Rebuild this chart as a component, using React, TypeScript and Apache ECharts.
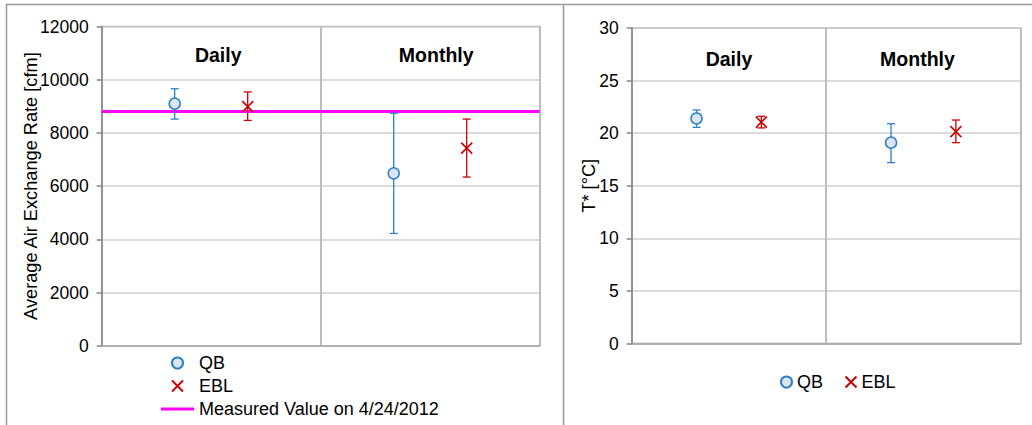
import React, { useEffect, useRef } from "react";
import * as echarts from "echarts";

const categories = ["Daily", "Monthly"];
// Air exchange rate [cfm]
const airQB = [9100, 6480];
const airQBLow = [8520, 4220];
const airQBHigh = [9660, 8740];
const airEBL = [8990, 7430];
const airEBLLow = [8470, 6340];
const airEBLHigh = [9540, 8520];
const measuredValue = 8800;
const airTicks = { min: 0, max: 12000, interval: 2000 };
// Temperature T* [°C]
const tQB = [21.4, 19.1];
const tQBLow = [20.55, 17.2];
const tQBHigh = [22.2, 20.9];
const tEBL = [21.05, 20.15];
const tEBLLow = [20.5, 19.1];
const tEBLHigh = [21.6, 21.25];
const tTicks = { min: 0, max: 30, interval: 5 };

const FONT = "'Liberation Sans', Arial, sans-serif";
const BLUE = "#2f7fc4";
const RED = "#cc0000";
const MAGENTA = "#ff00ff";
const XPATH = "path://M0,0L10,10M10,0L0,10";
const LINEPATH = "path://M0,0L34,0L34,3L0,3Z";

const posQB = (i: number) => 3 * i + 1;
const posEBL = (i: number) => 3 * i + 2;

function errorSeries(name: string, xi: number, yi: number, lo: number[], hi: number[], pos: (i: number) => number, color: string) {
  return {
    name,
    type: "custom",
    xAxisIndex: xi,
    yAxisIndex: yi,
    z: 3,
    data: lo.map((l, i) => [pos(i), l, hi[i]]),
    encode: { x: 0, y: [1, 2] },
    renderItem: (params: any, api: any) => {
      const x = api.value(0);
      const p1 = api.coord([x, api.value(1)]);
      const p2 = api.coord([x, api.value(2)]);
      const cap = 4;
      const style = { stroke: color, lineWidth: 1.3, fill: "none" };
      return {
        type: "group",
        children: [
          { type: "line", shape: { x1: p1[0], y1: p1[1], x2: p2[0], y2: p2[1] }, style },
          { type: "line", shape: { x1: p1[0] - cap, y1: p1[1], x2: p1[0] + cap, y2: p1[1] }, style },
          { type: "line", shape: { x1: p2[0] - cap, y1: p2[1], x2: p2[0] + cap, y2: p2[1] }, style },
        ],
      };
    },
  };
}

function qbSeries(xi: number, yi: number, vals: number[]) {
  return {
    name: "QB",
    type: "scatter",
    xAxisIndex: xi,
    yAxisIndex: yi,
    z: 5,
    symbol: "circle",
    symbolSize: 11,
    itemStyle: { color: "#dce6f2", borderColor: BLUE, borderWidth: 1.5, opacity: 1 },
    data: vals.map((v, i) => [posQB(i), v]),
  };
}

function eblSeries(xi: number, yi: number, vals: number[]) {
  return {
    name: "EBL",
    type: "scatter",
    xAxisIndex: xi,
    yAxisIndex: yi,
    z: 5,
    symbol: XPATH,
    symbolSize: 11,
    itemStyle: { color: "none", borderColor: RED, borderWidth: 1.6, opacity: 1 },
    data: vals.map((v, i) => [posEBL(i), v]),
  };
}

function xValueAxis(gridIndex: number) {
  return {
    type: "value",
    gridIndex,
    min: 0,
    max: 6,
    interval: 3,
    axisLine: { show: true, onZero: false, lineStyle: { color: "#a6a6a6", width: 1.5 } },
    axisTick: { show: false },
    axisLabel: { show: false },
    splitLine: { show: true, lineStyle: { color: "#bdbdbd", width: 2 } },
  };
}

// shifts: horizontal offset (px) of each category label from its category centre
function xCatAxis(gridIndex: number, margin: number, shifts: number[]) {
  const rich: any = {};
  shifts.forEach((s, i) => {
    rich["c" + i] = {
      fontFamily: FONT,
      fontSize: 19.5,
      fontWeight: "bold",
      color: "#000",
      padding: s >= 0 ? [0, 0, 0, 2 * s] : [0, -2 * s, 0, 0],
    };
  });
  return {
    type: "category",
    gridIndex,
    position: "top",
    data: categories,
    axisLine: { show: false },
    axisTick: { show: false },
    splitLine: { show: false },
    axisLabel: {
      inside: true,
      margin,
      fontFamily: FONT,
      fontSize: 19.5,
      fontWeight: "bold",
      color: "#000",
      formatter: (v: string, i: number) => `{c${i}|${v}}`,
      rich,
    },
  };
}

function yAxis(gridIndex: number, ticks: any, name: string, nameGap: number) {
  return {
    type: "value",
    gridIndex,
    min: ticks.min,
    max: ticks.max,
    interval: ticks.interval,
    name,
    nameLocation: "middle",
    nameRotate: 90,
    nameGap,
    nameMoveOverlap: false,
    nameTextStyle: { fontFamily: FONT, fontSize: 18.2, color: "#000" },
    axisLine: { show: true, lineStyle: { color: "#868686", width: 1.5 } },
    axisTick: { show: true, length: 5, lineStyle: { color: "#868686", width: 1.5 } },
    axisLabel: {
      fontFamily: FONT,
      fontSize: 17.5,
      color: "#000",
      margin: 13,
      formatter: (v: number) => String(v),
    },
    splitLine: { show: true, lineStyle: { color: "#d0d0d0", width: 1.5 } },
  };
}

export default function App() {
  const ref = useRef<HTMLDivElement>(null);
  useEffect(() => {
    document.body.style.margin = "0";
    const chart = echarts.init(ref.current!, null, { renderer: "svg" });
    const frame = { stroke: "#999999", lineWidth: 1.5 };
    chart.setOption({
      animation: false,
      backgroundColor: "#ffffff",
      grid: [
        { left: 101.7, top: 26.5, width: 438, height: 319.2, show: true, borderColor: "#a6a6a6", borderWidth: 1.5, backgroundColor: "transparent" },
        { left: 631.7, top: 28, width: 389, height: 315.5, show: true, borderColor: "#a6a6a6", borderWidth: 1.5, backgroundColor: "transparent" },
      ],
      xAxis: [xValueAxis(0), xCatAxis(0, 18.5, [7, 6]), xValueAxis(1), xCatAxis(1, 20.5, [0, -6])],
      yAxis: [
        yAxis(0, airTicks, "Average Air Exchange Rate [cfm]", 62),
        yAxis(1, tTicks, "T* [°C]", 34),
      ],
      legend: [
        {
          data: [
            { name: "QB", icon: "circle" },
            { name: "EBL", icon: XPATH },
            {
              name: "Measured Value on 4/24/2012",
              icon: LINEPATH,
              itemStyle: { color: MAGENTA, borderWidth: 0 },
            },
          ],
          orient: "vertical",
          left: 161,
          top: 354,
          itemWidth: 33,
          itemHeight: 11,
          itemGap: 5,
          padding: 0,
          textStyle: { fontFamily: FONT, fontSize: 18, color: "#000" },
        },
        {
          data: [
            { name: "QB", icon: "circle" },
            { name: "EBL", icon: XPATH },
          ],
          orient: "horizontal",
          left: 780,
          top: 373,
          itemWidth: 11,
          itemHeight: 11,
          itemGap: 20,
          padding: 0,
          textStyle: { fontFamily: FONT, fontSize: 18, color: "#000" },
        },
      ],
      graphic: [
        { type: "line", shape: { x1: 6, y1: 4.5, x2: 1032, y2: 4.5 }, style: frame, silent: true },
        { type: "line", shape: { x1: 6.5, y1: 4, x2: 6.5, y2: 425 }, style: frame, silent: true },
        { type: "line", shape: { x1: 563.5, y1: 4, x2: 563.5, y2: 425 }, style: frame, silent: true },
      ],
      series: [
        {
          name: "Measured Value on 4/24/2012",
          type: "line",
          xAxisIndex: 0,
          yAxisIndex: 0,
          z: 2,
          symbol: "none",
          lineStyle: { color: MAGENTA, width: 3 },
          itemStyle: { color: MAGENTA },
          data: [
            [0, measuredValue],
            [6, measuredValue],
          ],
        },
        errorSeries("QB err", 0, 0, airQBLow, airQBHigh, posQB, BLUE),
        errorSeries("EBL err", 0, 0, airEBLLow, airEBLHigh, posEBL, RED),
        qbSeries(0, 0, airQB),
        eblSeries(0, 0, airEBL),
        errorSeries("QB err T", 2, 1, tQBLow, tQBHigh, posQB, BLUE),
        errorSeries("EBL err T", 2, 1, tEBLLow, tEBLHigh, posEBL, RED),
        qbSeries(2, 1, tQB),
        eblSeries(2, 1, tEBL),
      ],
    });
    return () => chart.dispose();
  }, []);
  return <div ref={ref} style={{ width: 1032, height: 425 }} />;
}
